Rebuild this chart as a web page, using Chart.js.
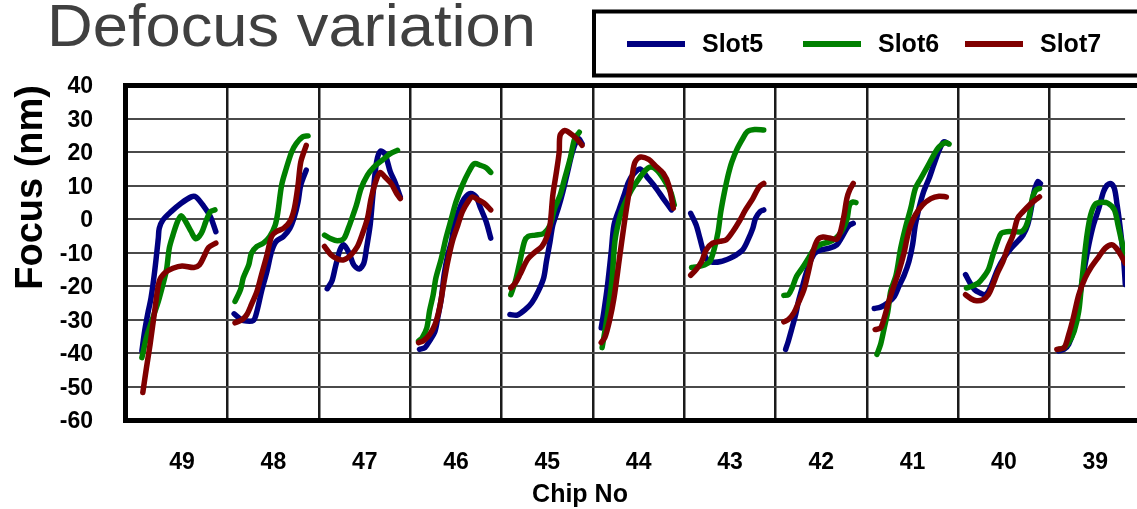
<!DOCTYPE html>
<html>
<head>
<meta charset="utf-8">
<script src="https://cdn.jsdelivr.net/npm/chart.js@4.4.1/dist/chart.umd.min.js"></script>
<style>
  html, body { margin: 0; padding: 0; background: #fff; }
  #wrap { width: 1137px; height: 509px; }
</style>
</head>
<body>
<div id="wrap"><canvas id="chart" width="1137" height="509"></canvas></div>
<script>
'use strict';

// chip numbers, left to right
var chips = ['49', '48', '47', '46', '45', '44', '43', '42', '41', '40', '39'];
var yTicks = { min: -60, max: 40, step: 10 };

// each chip: [position across the chip (0..1), focus nm]
var slot5 = [
  [[0.06,-39.4],[0.09,-33.5],[0.13,-27.5],[0.16,-23.6],[0.2,-15.6],[0.24,-5.7],[0.25,-2.8],[0.29,-0.3],[0.38,2.2],[0.49,4.7],[0.6,6.6],[0.65,6.6],[0.74,3.7],[0.81,0.7],[0.87,-3.8]],
  [[0.07,-28.3],[0.12,-29.5],[0.17,-30.3],[0.28,-30.3],[0.32,-27.5],[0.37,-21.6],[0.43,-15.6],[0.48,-9.7],[0.53,-6.7],[0.61,-5.2],[0.68,-2.8],[0.73,0.7],[0.77,5.1],[0.8,10.1],[0.86,14.6]],
  [[0.09,-20.8],[0.14,-18.6],[0.18,-14.2],[0.23,-9.2],[0.27,-7.7],[0.33,-10.2],[0.38,-13.7],[0.44,-14.9],[0.49,-13.2],[0.52,-8.7],[0.56,-1.8],[0.59,7.1],[0.63,17.0],[0.67,20.2],[0.72,19.5],[0.78,14.1],[0.83,11.1],[0.89,6.6]],
  [[0.1,-38.9],[0.16,-38.4],[0.21,-36.4],[0.27,-33.5],[0.3,-29.5],[0.34,-23.6],[0.37,-16.6],[0.41,-10.7],[0.45,-6.7],[0.48,-1.8],[0.54,3.2],[0.59,6.1],[0.66,7.6],[0.72,6.6],[0.77,3.2],[0.83,-0.8],[0.88,-5.7]],
  [[0.09,-28.5],[0.17,-28.7],[0.26,-27.0],[0.33,-25.0],[0.4,-21.6],[0.46,-17.6],[0.49,-12.7],[0.53,-6.7],[0.56,-1.8],[0.62,3.2],[0.67,8.1],[0.73,15.0],[0.78,20.5],[0.84,24.0],[0.88,22.5]],
  [[0.09,-32.5],[0.12,-27.5],[0.16,-19.6],[0.2,-9.7],[0.23,-1.8],[0.29,3.2],[0.34,7.1],[0.39,11.1],[0.45,13.6],[0.52,14.9],[0.59,12.6],[0.68,9.6],[0.77,6.1],[0.86,2.7]],
  [[0.07,1.7],[0.13,-1.8],[0.17,-5.7],[0.21,-9.7],[0.25,-12.2],[0.31,-12.9],[0.4,-12.7],[0.5,-11.7],[0.57,-10.7],[0.64,-9.2],[0.69,-6.7],[0.75,-2.8],[0.78,0.2],[0.83,2.2],[0.87,2.7]],
  [[0.11,-38.9],[0.14,-36.4],[0.18,-32.5],[0.22,-28.5],[0.25,-24.6],[0.29,-20.6],[0.33,-16.6],[0.38,-12.7],[0.43,-10.2],[0.5,-9.2],[0.59,-8.7],[0.67,-7.7],[0.72,-5.7],[0.78,-2.8],[0.81,-1.8],[0.85,-1.3]],
  [[0.08,-26.7],[0.15,-26.3],[0.23,-25.0],[0.3,-23.1],[0.35,-20.1],[0.41,-16.6],[0.46,-12.7],[0.5,-7.7],[0.53,-1.8],[0.57,3.2],[0.62,8.1],[0.68,12.1],[0.73,16.0],[0.79,20.5],[0.84,23.0],[0.89,22.5]],
  [[0.08,-16.6],[0.13,-19.1],[0.18,-21.1],[0.24,-22.1],[0.29,-22.6],[0.33,-21.6],[0.38,-18.6],[0.43,-15.1],[0.51,-11.2],[0.58,-8.7],[0.65,-6.7],[0.71,-4.8],[0.76,-1.8],[0.8,3.2],[0.83,8.1],[0.87,11.1],[0.9,10.6]],
  [[0.1,-39.4],[0.16,-38.9],[0.21,-37.4],[0.26,-33.5],[0.32,-24.6],[0.37,-16.6],[0.43,-7.7],[0.48,-1.8],[0.54,3.2],[0.59,8.1],[0.63,10.1],[0.67,10.6],[0.71,9.1],[0.74,4.2],[0.77,-1.8],[0.81,-11.7],[0.83,-19.6]]
];
var slot6 = [
  [[0.06,-41.4],[0.11,-35.4],[0.18,-29.5],[0.24,-24.6],[0.29,-19.6],[0.33,-15.1],[0.36,-8.7],[0.4,-4.8],[0.45,-0.8],[0.49,1.0],[0.54,-0.8],[0.6,-3.8],[0.65,-5.9],[0.71,-4.3],[0.76,-0.8],[0.81,2.2],[0.86,2.7]],
  [[0.08,-24.6],[0.14,-21.1],[0.17,-17.6],[0.23,-13.7],[0.26,-10.2],[0.32,-8.2],[0.39,-7.2],[0.46,-5.2],[0.52,-1.8],[0.55,2.2],[0.59,10.1],[0.64,15.0],[0.7,20.0],[0.75,22.5],[0.82,24.5],[0.88,24.8]],
  [[0.06,-4.8],[0.13,-5.9],[0.2,-6.5],[0.27,-5.9],[0.32,-2.8],[0.36,0.2],[0.41,4.2],[0.46,9.1],[0.53,13.1],[0.6,15.5],[0.69,17.5],[0.78,19.5],[0.86,20.5]],
  [[0.09,-36.4],[0.13,-35.4],[0.18,-32.5],[0.21,-27.5],[0.25,-22.6],[0.28,-17.6],[0.34,-11.7],[0.39,-5.7],[0.45,0.2],[0.5,5.1],[0.57,10.1],[0.64,14.1],[0.7,16.5],[0.77,16.0],[0.83,15.3],[0.88,13.9]],
  [[0.1,-22.6],[0.15,-18.6],[0.2,-12.7],[0.25,-6.7],[0.29,-5.2],[0.37,-4.8],[0.46,-4.3],[0.53,-1.8],[0.58,3.2],[0.64,7.1],[0.69,12.1],[0.75,18.0],[0.8,24.0],[0.85,25.9]],
  [[0.1,-38.4],[0.13,-33.5],[0.17,-26.5],[0.21,-17.6],[0.24,-6.7],[0.29,0.2],[0.34,4.2],[0.41,8.1],[0.48,11.1],[0.56,14.1],[0.63,15.5],[0.7,14.6],[0.77,12.1],[0.85,8.1],[0.89,4.2]],
  [[0.08,-14.5],[0.15,-14.2],[0.22,-13.7],[0.28,-12.7],[0.33,-8.7],[0.37,-3.8],[0.4,2.2],[0.44,8.1],[0.48,13.1],[0.52,17.0],[0.58,21.0],[0.64,24.0],[0.69,26.1],[0.77,26.7],[0.87,26.6]],
  [[0.09,-22.8],[0.14,-22.6],[0.18,-20.6],[0.23,-17.1],[0.29,-14.7],[0.36,-11.7],[0.43,-8.7],[0.5,-7.5],[0.58,-6.9],[0.65,-5.9],[0.72,-3.8],[0.78,-0.3],[0.81,4.2],[0.85,5.1],[0.88,4.9]],
  [[0.11,-40.4],[0.15,-37.4],[0.19,-32.5],[0.23,-27.5],[0.26,-21.6],[0.32,-16.6],[0.37,-8.7],[0.42,-2.8],[0.48,3.2],[0.53,9.1],[0.59,12.1],[0.66,15.5],[0.73,19.0],[0.79,21.5],[0.86,22.8],[0.9,22.4]],
  [[0.09,-20.6],[0.15,-20.1],[0.22,-19.1],[0.27,-17.6],[0.33,-15.1],[0.38,-10.7],[0.43,-6.7],[0.47,-4.3],[0.53,-3.8],[0.62,-3.8],[0.69,-3.8],[0.74,-2.3],[0.78,1.2],[0.81,6.1],[0.85,8.6],[0.89,9.1]],
  [[0.1,-38.9],[0.16,-38.4],[0.21,-36.9],[0.27,-33.5],[0.32,-27.5],[0.35,-19.6],[0.38,-11.7],[0.41,-4.8],[0.45,1.2],[0.5,4.4],[0.57,5.0],[0.64,4.7],[0.71,2.7],[0.75,-1.8],[0.79,-6.7],[0.83,-10.7]]
];
var slot7 = [
  [[0.07,-51.8],[0.11,-44.4],[0.15,-37.4],[0.2,-27.5],[0.25,-18.6],[0.31,-16.1],[0.4,-14.7],[0.5,-14.0],[0.63,-14.5],[0.69,-13.7],[0.74,-11.2],[0.79,-8.5],[0.87,-7.2]],
  [[0.08,-31.0],[0.16,-30.0],[0.21,-28.5],[0.26,-25.5],[0.32,-21.6],[0.37,-16.6],[0.43,-10.7],[0.48,-5.2],[0.53,-3.8],[0.61,-2.8],[0.68,-0.8],[0.73,3.2],[0.77,10.1],[0.8,17.0],[0.86,22.0]],
  [[0.06,-8.2],[0.13,-10.7],[0.2,-11.9],[0.27,-12.2],[0.35,-10.7],[0.42,-8.2],[0.47,-4.8],[0.53,0.2],[0.57,6.1],[0.62,11.1],[0.67,13.9],[0.72,12.6],[0.79,10.6],[0.85,7.6],[0.89,6.1]],
  [[0.09,-36.9],[0.14,-36.4],[0.21,-34.5],[0.27,-31.5],[0.32,-26.5],[0.37,-18.6],[0.41,-12.7],[0.46,-6.7],[0.52,-1.8],[0.57,2.2],[0.63,5.1],[0.68,6.6],[0.75,5.6],[0.81,4.7],[0.88,2.7]],
  [[0.1,-20.6],[0.15,-19.1],[0.2,-16.6],[0.28,-12.2],[0.35,-10.2],[0.44,-8.2],[0.49,-5.7],[0.53,-1.8],[0.56,7.1],[0.6,14.1],[0.63,20.0],[0.64,25.0],[0.69,26.4],[0.76,25.4],[0.82,24.0],[0.88,22.0]],
  [[0.09,-36.9],[0.13,-35.4],[0.18,-30.5],[0.23,-23.6],[0.29,-11.7],[0.34,-1.8],[0.39,7.1],[0.43,13.1],[0.46,17.0],[0.52,18.5],[0.61,17.8],[0.68,16.0],[0.77,13.6],[0.83,10.1],[0.88,3.2]],
  [[0.07,-16.8],[0.13,-15.1],[0.19,-12.7],[0.24,-9.2],[0.31,-7.2],[0.39,-6.7],[0.46,-6.2],[0.53,-3.8],[0.6,-0.8],[0.67,2.7],[0.75,6.1],[0.82,9.6],[0.87,10.6]],
  [[0.09,-30.7],[0.14,-30.0],[0.2,-28.0],[0.25,-25.0],[0.31,-21.1],[0.36,-15.6],[0.41,-9.7],[0.46,-6.2],[0.52,-5.4],[0.59,-5.7],[0.67,-6.0],[0.71,-3.8],[0.75,1.2],[0.78,6.1],[0.81,8.6],[0.85,10.6]],
  [[0.09,-33.0],[0.15,-32.5],[0.19,-29.5],[0.24,-24.6],[0.3,-19.6],[0.35,-15.6],[0.41,-9.7],[0.44,-5.7],[0.48,-1.8],[0.53,1.2],[0.61,4.2],[0.7,6.1],[0.79,6.8],[0.87,6.6]],
  [[0.08,-22.6],[0.14,-23.8],[0.2,-24.4],[0.27,-24.1],[0.33,-22.6],[0.38,-19.6],[0.43,-16.1],[0.49,-12.7],[0.54,-8.7],[0.6,-4.8],[0.65,0.2],[0.71,2.2],[0.78,4.2],[0.84,5.6],[0.89,6.6]],
  [[0.08,-38.9],[0.16,-38.4],[0.21,-34.5],[0.26,-29.5],[0.32,-22.6],[0.39,-17.6],[0.46,-14.2],[0.54,-11.2],[0.61,-8.7],[0.68,-7.7],[0.73,-8.7],[0.79,-11.2],[0.83,-13.2]]
];

var FONT = '"Liberation Sans", Arial, Helvetica, sans-serif';

// one line per slot, broken between chips
function toPoints(curves) {
  var pts = [];
  curves.forEach(function(curve, k) {
    curve.forEach(function(p) {
      pts.push({ x: k + p[0], y: p[1] });
    });
    pts.push({ x: k + 0.96, y: null });
  });
  return pts;
}

function isBoundary(v) {
  return Math.abs(v - Math.round(v)) < 1e-6;
}

// title, legend box, frame and x title
var decorations = {
  id: 'decorations',
  afterDraw: function(chart) {
    var ctx = chart.ctx;
    var a = chart.chartArea;
    ctx.save();

    // frame (left, top, bottom)
    ctx.strokeStyle = '#000';
    ctx.lineWidth = 5;
    ctx.lineJoin = 'miter';
    ctx.beginPath();
    ctx.moveTo(chart.width + 5, a.top + 0.5);
    ctx.lineTo(a.left + 0.5, a.top + 0.5);
    ctx.lineTo(a.left + 0.5, a.bottom + 0.5);
    ctx.lineTo(chart.width + 5, a.bottom + 0.5);
    ctx.stroke();

    // page title
    var title = 'Defocus variation';
    ctx.font = '60px ' + FONT;
    ctx.fillStyle = '#404040';
    ctx.textAlign = 'left';
    ctx.textBaseline = 'alphabetic';
    var w = ctx.measureText(title).width;
    ctx.save();
    ctx.translate(47, 46);
    ctx.scale(489 / w, 1);
    ctx.fillText(title, 0, 0);
    ctx.restore();

    // legend box
    ctx.lineWidth = 4;
    ctx.strokeStyle = '#000';
    ctx.strokeRect(594, 11.5, 600, 64);
    var legendX = [627, 803, 965];
    ctx.font = 'bold 25px ' + FONT;
    ctx.textBaseline = 'middle';
    chart.data.datasets.forEach(function(ds, i) {
      ctx.strokeStyle = ds.borderColor;
      ctx.lineWidth = 6;
      ctx.lineCap = 'butt';
      ctx.beginPath();
      ctx.moveTo(legendX[i], 44);
      ctx.lineTo(legendX[i] + 58, 44);
      ctx.stroke();
      ctx.fillStyle = '#000';
      ctx.fillText(ds.label, legendX[i] + 75, 45);
    });

    // x axis title
    ctx.font = 'bold 25px ' + FONT;
    ctx.textAlign = 'center';
    ctx.fillText('Chip No', 580, 495);
    ctx.restore();
  }
};

new Chart(document.getElementById('chart'), {
  type: 'line',
  data: {
    datasets: [{
      label: 'Slot5',
      data: toPoints(slot5),
      borderColor: '#000080',
      order: 3
    }, {
      label: 'Slot6',
      data: toPoints(slot6),
      borderColor: '#008000',
      order: 2
    }, {
      label: 'Slot7',
      data: toPoints(slot7),
      borderColor: '#800000',
      order: 1
    }]
  },
  options: {
    responsive: false,
    animation: false,
    devicePixelRatio: 1,
    spanGaps: false,
    layout: {
      padding: { top: 85, right: 0, bottom: 0, left: 0 }
    },
    elements: {
      point: { radius: 0 },
      line: {
        borderWidth: 5.5,
        tension: 0.3,
        fill: false,
        borderCapStyle: 'round',
        borderJoinStyle: 'round'
      }
    },
    plugins: {
      legend: { display: false },
      tooltip: { enabled: false },
      title: { display: false }
    },
    scales: {
      x: {
        type: 'linear',
        min: -0.125,
        max: chips.length - 0.173,
        afterFit: function(s) { s.height = 89; },
        afterBuildTicks: function(s) {
          var t = [];
          chips.forEach(function(c, k) {
            if (k > 0) t.push({ value: k });
            t.push({ value: k + 0.5 });
          });
          s.ticks = t;
        },
        border: { display: false },
        grid: {
          drawTicks: false,
          lineWidth: 2.5,
          color: function(c) {
            return c.tick && isBoundary(c.tick.value) ? '#1a1a1a' : 'rgba(0,0,0,0)';
          }
        },
        ticks: {
          autoSkip: false,
          maxRotation: 0,
          minRotation: 0,
          padding: 29,
          color: '#000',
          font: { family: FONT, size: 23, weight: 'bold' },
          callback: function(v) {
            return isBoundary(v) ? '' : chips[Math.floor(v)];
          }
        }
      },
      y: {
        min: yTicks.min,
        max: yTicks.max,
        afterFit: function(s) { s.width = 125; },
        border: { display: false },
        grid: {
          drawTicks: false,
          lineWidth: 2,
          color: '#4a4a4a'
        },
        ticks: {
          stepSize: yTicks.step,
          padding: 32,
          labelOffset: 2,
          color: '#000',
          font: { family: FONT, size: 23, weight: 'bold' }
        },
        title: {
          display: true,
          text: 'Focus (nm)',
          align: 'end',
          color: '#000',
          padding: { top: 9, bottom: 0 },
          font: { family: FONT, size: 38, weight: 'bold' }
        }
      }
    }
  },
  plugins: [decorations]
});
</script>
</body>
</html>
